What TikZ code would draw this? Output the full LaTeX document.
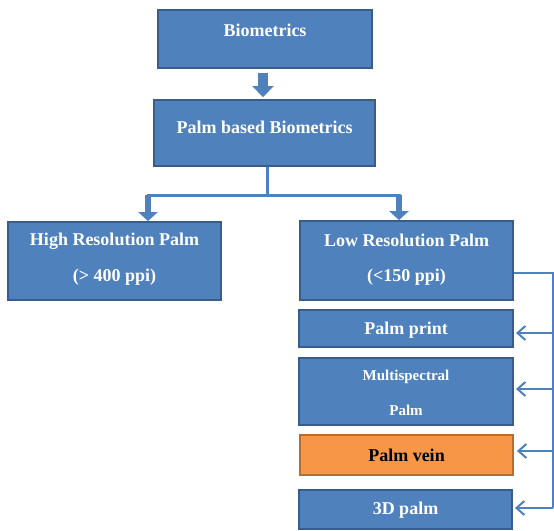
\documentclass[tikz,border=0pt]{standalone}
\usepackage{fontspec}
\setmainfont{Liberation Serif}
\usetikzlibrary{arrows.meta}
\definecolor{bfill}{HTML}{4F81BD}
\definecolor{bdraw}{HTML}{385D8A}
\definecolor{ofill}{HTML}{F79646}
\definecolor{odraw}{HTML}{B66D31}
\tikzset{
  box/.style={draw=bdraw, fill=bfill, line width=1.8pt, inner sep=0pt},
  obox/.style={draw=odraw, fill=ofill, line width=1.8pt, inner sep=0pt},
  txt/.style={text=white, font=\fontsize{18}{20}\selectfont\bfseries, inner sep=0pt},
  stxt/.style={text=white, font=\fontsize{15}{17}\selectfont\bfseries, inner sep=0pt},
  link/.style={draw=bfill, line width=2pt},
  barb/.style={link, -{Straight Barb[length=8pt,width=14pt,line width=2pt]}},
  fat/.style={draw=bfill, line width=6pt, -{Triangle[length=9pt,width=19pt]}},
}
\begin{document}
\begin{tikzpicture}[x=1pt,y=-1pt]
\useasboundingbox (0,0) rectangle (554,530);
% boxes
\node[box, minimum width=214pt, minimum height=58pt] (bio) at (265,39) {};
\node[txt] (bioT) at (265,30) {Biometrics};
\node[box, minimum width=221pt, minimum height=66pt] (pbb) at (264.5,133) {};
\node[txt] (pbbT) at (264.5,127) {Palm based Biometrics};
\node[box, minimum width=213pt, minimum height=78pt] (high) at (114.5,261) {};
\node[txt] (highT1) at (114.5,241) {High Resolution Palm};
\node[txt] (highT2) at (114.5,277) {(> 400 ppi)};
\node[box, minimum width=213pt, minimum height=79pt] (low) at (406.5,260.5) {};
\node[txt] (lowT1) at (406.5,240) {Low Resolution Palm};
\node[txt] (lowT2) at (406.5,277) {(<150 ppi)};
\node[box, minimum width=214pt, minimum height=37pt] (pp) at (406,328.5) {};
\node[txt] (ppT) at (406,330) {Palm print};
\node[box, minimum width=214pt, minimum height=67pt] (ms) at (406,391.5) {};
\node[stxt] (msT1) at (406,377) {Multispectral};
\node[stxt] (msT2) at (406,410) {Palm};
\node[obox, minimum width=213pt, minimum height=40pt] (pv) at (406.5,455) {};
\node[txt, text=black] (pvT) at (406.5,455) {Palm vein};
\node[box, minimum width=213pt, minimum height=39pt] (d3) at (405.5,509.5) {};
\node[txt] (d3T) at (405.5,510) {3D palm};
% block arrow
\draw[draw=bfill, line width=10pt, -{Triangle[length=11pt,width=21pt]}, shorten <=4pt, shorten >=2pt] ([xshift=-2pt]bio.south) -- ([xshift=-1.5pt]pbb.north);
% branch
\coordinate (j) at (267,195);
\coordinate (jl) at (148,195);
\coordinate (jr) at (399,195);
\draw[link, line width=3pt] ([xshift=2.5pt]pbb.south) -- (j);
\draw[link, line width=3pt] ([xshift=-1.5pt]jl) -- ([xshift=1.5pt]jr);
\draw[fat] (jl) -- (jl |- high.north);
\draw[fat] (jr) -- (jr |- low.north);
% right trunk
\coordinate (t0) at (553,273);
\coordinate (t1) at (553,333);
\coordinate (t2) at (553,389);
\coordinate (t3) at (553,451);
\coordinate (t4) at (553,508);
\draw[link] (low.east |- t0) -- (t0) -- (t4);
\draw[barb] (t1) -- ([xshift=2pt]pp.east |- t1);
\draw[barb] (t2) -- ([xshift=2pt]ms.east |- t2);
\draw[barb] (t3) -- ([xshift=3pt]pv.east |- t3);
\draw[barb] (t4) -- ([xshift=2pt]d3.east |- t4);
\end{tikzpicture}
\end{document}
